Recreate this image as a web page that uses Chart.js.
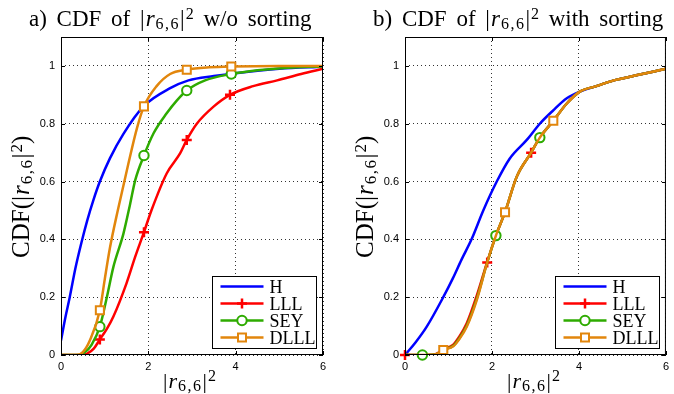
<!DOCTYPE html>
<html>
<head>
<meta charset="utf-8">
<script src="https://cdn.jsdelivr.net/npm/chart.js@4.4.0/dist/chart.umd.min.js"></script>
<style>
body { margin: 0; background: #fff; }
#wrap { position: relative; width: 674px; height: 394px; overflow: hidden; }
canvas { position: absolute; top: 0; }
.lbl { position: absolute; font-family: "Liberation Serif", "DejaVu Serif", serif; font-size: 22px; line-height: 22px; white-space: nowrap; text-align: left; color: #000; word-spacing: 4px; }
.lbl i { margin-left: 1px; }
.lbl sub, .lbl sup { font-size: 16px; line-height: 0; }
.lbl sub { vertical-align: -3px; letter-spacing: 1.5px; margin-left: 1px; }
.lbl sup { vertical-align: 7px; margin-left: 1px; }
.ttl { font-size: 23px; }
.ylab { font-size: 25px; line-height: 25px; transform-origin: 0 0; transform: rotate(-90deg); }
.ylab sub, .ylab sup { font-size: 17px; }
</style>
</head>
<body>
<div id="wrap">
  <canvas id="chartA" width="337" height="394" style="left:0"></canvas>
  <canvas id="chartB" width="337" height="394" style="left:337px"></canvas>
  <div class="lbl ttl" style="left:29px; top:8.3px">a) CDF of |<i>r</i><sub>6,6</sub>|<sup>2</sup> w/o sorting</div>
  <div class="lbl ttl" style="left:373px; top:8.3px">b) CDF of |<i>r</i><sub>6,6</sub>|<sup>2</sup> with sorting</div>
  <div class="lbl ylab" style="left:7.5px; top:258px">CDF(|<i>r</i><sub>6,6</sub>|<sup>2</sup>)</div>
  <div class="lbl ylab" style="left:351.5px; top:258px">CDF(|<i>r</i><sub>6,6</sub>|<sup>2</sup>)</div>
  <div class="lbl" style="left:163px; top:369.6px">|<i>r</i><sub>6,6</sub>|<sup>2</sup></div>
  <div class="lbl" style="left:507px; top:369.6px">|<i>r</i><sub>6,6</sub>|<sup>2</sup></div>
</div>
<script>
// legenda dan warna
const seriesNames = ['H', 'LLL', 'SEY', 'DLLL'];
const seriesColors = ['#0000ff', '#ff0000', '#2eab00', '#e2860c'];
const markerStyles = [null, 'cross', 'circle', 'rect'];

const xTicks = [0, 2, 4, 6];
const yTicks = [0, 0.2, 0.4, 0.6, 0.8, 1];

// a) tanpa sorting
const hX_a = [0, 0.1, 0.2, 0.33, 0.47, 0.6, 0.74, 0.89, 1.12, 1.43, 1.89, 2.5, 2.92, 3.5, 4.0, 5.0, 6.0];
const hY_a = [0.05, 0.13, 0.2, 0.3, 0.39, 0.465, 0.535, 0.6, 0.68, 0.765, 0.86, 0.923, 0.95, 0.965, 0.975, 0.99, 0.997];
const lllX_a = [0, 0.45, 0.6, 0.75, 0.89, 1.05, 1.2, 1.5, 1.7, 1.9, 2.07, 2.42, 2.73, 2.88, 3.11, 3.5, 3.87, 4.4, 4.95, 5.5, 6];
const lllY_a = [0, 0, 0.005, 0.022, 0.054, 0.09, 0.133, 0.248, 0.34, 0.425, 0.5, 0.628, 0.698, 0.744, 0.8, 0.86, 0.9, 0.93, 0.95, 0.972, 0.99];
const seyX_a = [0, 0.4, 0.55, 0.7, 0.89, 1.05, 1.2, 1.43, 1.58, 1.7, 1.9, 2.12, 2.42, 2.65, 2.88, 3.3, 3.9, 4.5, 5.2, 6];
const seyY_a = [0, 0, 0.01, 0.035, 0.098, 0.2, 0.305, 0.42, 0.52, 0.605, 0.69, 0.767, 0.836, 0.88, 0.915, 0.95, 0.972, 0.985, 0.994, 0.998];
const dlllX_a = [0, 0.35, 0.5, 0.66, 0.89, 1.0, 1.12, 1.3, 1.54, 1.74, 1.9, 2.19, 2.5, 2.88, 3.4, 3.9, 5, 6];
const dlllY_a = [0, 0, 0.01, 0.05, 0.155, 0.26, 0.37, 0.5, 0.66, 0.785, 0.86, 0.93, 0.972, 0.987, 0.995, 0.998, 1, 1];
// marker a)
const lllMkX_a = [0.89, 1.9, 2.88, 3.87];
const lllMkY_a = [0.054, 0.425, 0.744, 0.9];
const seyMkX_a = [0.89, 1.9, 2.88, 3.9];
const seyMkY_a = [0.098, 0.69, 0.915, 0.972];
const dlllMkX_a = [0.89, 1.9, 2.88, 3.9];
const dlllMkY_a = [0.155, 0.86, 0.987, 0.998];

// b) dengan sorting
const hX_b = [0, 0.25, 0.5, 0.88, 1.1, 1.3, 1.53, 1.8, 2.11, 2.41, 2.8, 3.1, 3.4, 3.72, 4.02, 4.4, 4.8, 5.4, 6];
const hY_b = [0, 0.045, 0.098, 0.2, 0.265, 0.33, 0.4, 0.5, 0.6, 0.68, 0.744, 0.8, 0.845, 0.888, 0.911, 0.93, 0.95, 0.97, 0.99];
const lllX_b = [0, 0.5, 0.72, 0.88, 1.11, 1.25, 1.42, 1.65, 1.89, 2.09, 2.3, 2.57, 2.9, 3.1, 3.41, 3.72, 4.02, 4.4, 4.8, 5.4, 6];
const lllY_b = [0, 0, 0.004, 0.019, 0.036, 0.064, 0.11, 0.205, 0.322, 0.413, 0.494, 0.617, 0.70, 0.752, 0.81, 0.87, 0.911, 0.93, 0.95, 0.97, 0.99];
const seyX_b = [0, 0.5, 0.72, 0.88, 1.11, 1.25, 1.42, 1.65, 1.89, 2.09, 2.3, 2.57, 2.9, 3.1, 3.41, 3.72, 4.02, 4.4, 4.8, 5.4, 6];
const seyY_b = [0, 0, 0.003, 0.018, 0.032, 0.058, 0.102, 0.195, 0.32, 0.413, 0.494, 0.617, 0.70, 0.752, 0.81, 0.87, 0.911, 0.93, 0.95, 0.97, 0.99];
const dlllX_b = [0, 0.5, 0.72, 0.88, 1.11, 1.25, 1.42, 1.65, 1.89, 2.09, 2.3, 2.57, 2.9, 3.1, 3.41, 3.72, 4.02, 4.4, 4.8, 5.4, 6];
const dlllY_b = [0, 0, 0.003, 0.017, 0.03, 0.055, 0.098, 0.19, 0.32, 0.413, 0.494, 0.617, 0.70, 0.752, 0.81, 0.87, 0.911, 0.93, 0.95, 0.97, 0.99];
// marker b)
const lllMkX_b = [0, 1.89, 2.9];
const lllMkY_b = [0, 0.32, 0.70];
const seyMkX_b = [0.4, 2.09, 3.1];
const seyMkY_b = [0, 0.413, 0.752];
const dlllMkX_b = [0.88, 2.3, 3.41];
const dlllMkY_b = [0.017, 0.494, 0.81];

function zip(xs, ys) {
    return xs.map((x, i) => ({ x: x, y: ys[i] }));
}

// gambar marker manual (untuk legenda)
function drawMarker(ctx, style, x, y, color) {
    ctx.save();
    ctx.strokeStyle = color;
    ctx.fillStyle = '#fff';
    if (style === 'cross') {
        ctx.lineWidth = 2.5;
        ctx.beginPath();
        ctx.moveTo(x - 5, y); ctx.lineTo(x + 5, y);
        ctx.moveTo(x, y - 5); ctx.lineTo(x, y + 5);
        ctx.stroke();
    } else if (style === 'circle') {
        ctx.lineWidth = 2;
        ctx.beginPath();
        ctx.arc(x, y, 4.7, 0, Math.PI * 2);
        ctx.fill(); ctx.stroke();
    } else if (style === 'rect') {
        ctx.lineWidth = 2;
        ctx.fillRect(x - 4, y - 4, 8, 8);
        ctx.strokeRect(x - 4, y - 4, 8, 8);
    }
    ctx.restore();
}

// bingkai, tick di dalam, dan legenda
const framePlugin = {
    id: 'frame',
    afterDraw(chart) {
        const { ctx, chartArea: a, scales } = chart;
        ctx.save();
        ctx.strokeStyle = '#000';
        ctx.lineWidth = 1;
        ctx.strokeRect(a.left + 0.5, a.top + 0.5, a.right - a.left - 1, a.bottom - a.top - 1);
        ctx.beginPath();
        xTicks.forEach(v => {
            const px = Math.round(scales.x.getPixelForValue(v)) + 0.5;
            ctx.moveTo(px, a.bottom); ctx.lineTo(px, a.bottom - 4);
            ctx.moveTo(px, a.top); ctx.lineTo(px, a.top + 4);
        });
        yTicks.forEach(v => {
            const py = Math.round(scales.y.getPixelForValue(v)) + 0.5;
            ctx.moveTo(a.left, py); ctx.lineTo(a.left + 4, py);
            ctx.moveTo(a.right, py); ctx.lineTo(a.right - 4, py);
        });
        ctx.stroke();

        // legenda
        const w = 104, h = 72;
        const bx = Math.round(a.right - 7 - w) + 0.5;
        const by = Math.round(a.bottom - 7 - h) + 0.5;
        ctx.fillStyle = '#fff';
        ctx.fillRect(bx, by, w, h);
        ctx.strokeRect(bx, by, w, h);
        const rows = [10, 27, 44, 61];
        ctx.font = '18px "Liberation Serif"';
        ctx.textBaseline = 'alphabetic';
        seriesNames.forEach((name, i) => {
            const ry = by + rows[i];
            ctx.strokeStyle = seriesColors[i];
            ctx.lineWidth = 2.5;
            ctx.beginPath();
            ctx.moveTo(bx + 8, ry); ctx.lineTo(bx + 51, ry);
            ctx.stroke();
            if (markerStyles[i]) drawMarker(ctx, markerStyles[i], bx + 29.5, ry, seriesColors[i]);
            ctx.fillStyle = '#000';
            ctx.fillText(name, bx + 57, ry + 6);
        });
        ctx.restore();
    }
};

const pointRadius = { cross: 5, circle: 4.7, rect: 5.7 };

function createChart(canvasId, curves, markers, yWidth, padRight) {
    const datasets = [];
    curves.forEach((c, i) => {
        datasets.push({
            label: seriesNames[i],
            data: c,
            borderColor: seriesColors[i],
            borderWidth: 2.5,
            pointRadius: 0,
            cubicInterpolationMode: 'monotone',
            order: 5 - i
        });
    });
    markers.forEach((m, j) => {
        const i = j + 1;
        datasets.push({
            label: seriesNames[i] + ' marker',
            data: m,
            showLine: false,
            pointStyle: markerStyles[i],
            pointRadius: pointRadius[markerStyles[i]],
            pointBorderColor: seriesColors[i],
            pointBackgroundColor: '#fff',
            pointBorderWidth: markerStyles[i] === 'cross' ? 2.5 : 2,
            clip: false,
            order: 4 - i
        });
    });

    const tickFont = { family: '"Liberation Sans", Arial, sans-serif', size: 11 };
    return new Chart(document.getElementById(canvasId), {
        type: 'line',
        data: { datasets: datasets },
        options: {
            responsive: false,
            animation: false,
            layout: { padding: { top: 37, right: padRight, left: 0, bottom: 0 } },
            plugins: { legend: { display: false }, tooltip: { enabled: false } },
            scales: {
                x: {
                    type: 'linear', min: 0, max: 6,
                    afterBuildTicks: s => { s.ticks = xTicks.map(v => ({ value: v })); },
                    afterFit: s => { s.height = 39; },
                    ticks: { color: '#000', font: tickFont, padding: 5, maxRotation: 0, callback: v => String(v) },
                    grid: { color: '#333', lineWidth: 1, drawTicks: false },
                    border: { display: false, dash: [1, 3] }
                },
                y: {
                    type: 'linear', min: 0, max: 1.1,
                    afterBuildTicks: s => { s.ticks = yTicks.map(v => ({ value: v })); },
                    afterFit: s => { s.width = yWidth; },
                    ticks: { color: '#000', font: tickFont, padding: 6, callback: v => String(+v.toFixed(1)) },
                    grid: { color: '#333', lineWidth: 1, drawTicks: false },
                    border: { display: false, dash: [1, 3] }
                }
            }
        },
        plugins: [framePlugin]
    });
}

createChart('chartA',
    [zip(hX_a, hY_a), zip(lllX_a, lllY_a), zip(seyX_a, seyY_a), zip(dlllX_a, dlllY_a)],
    [zip(lllMkX_a, lllMkY_a), zip(seyMkX_a, seyMkY_a), zip(dlllMkX_a, dlllMkY_a)],
    61, 14);

createChart('chartB',
    [zip(hX_b, hY_b), zip(lllX_b, lllY_b), zip(seyX_b, seyY_b), zip(dlllX_b, dlllY_b)],
    [zip(lllMkX_b, lllMkY_b), zip(seyMkX_b, seyMkY_b), zip(dlllMkX_b, dlllMkY_b)],
    68, 8);
</script>
</body>
</html>
